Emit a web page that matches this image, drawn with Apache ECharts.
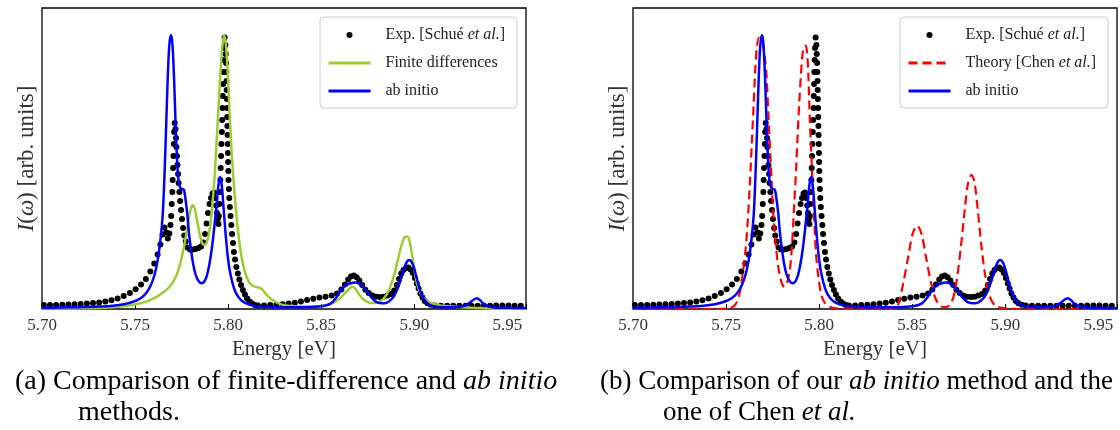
<!DOCTYPE html>
<html>
<head>
<meta charset="utf-8">
<script src="https://cdn.jsdelivr.net/npm/echarts@6/dist/echarts.min.js"></script>
<style>
  html, body { margin: 0; padding: 0; background: #fff; }
  #chart { width: 1120px; height: 430px; }
</style>
</head>
<body>
<div id="chart"></div>
<script>
// ---------------- data ----------------
// x: photon energy [eV]; y: intensity (arb. units, peak of plot ~ 0.91)
const tickLabels = ['5.70', '5.75', '5.80', '5.85', '5.90', '5.95'];

const expPoints = [
  [5.7010,0.013],[5.7043,0.013],[5.7076,0.013],[5.7109,0.014],[5.7142,0.015],[5.7175,0.016],
  [5.7208,0.017],[5.7241,0.018],[5.7274,0.020],[5.7307,0.022],[5.7340,0.025],[5.7373,0.029],
  [5.7406,0.035],[5.7439,0.043],[5.7472,0.053],[5.7503,0.066],[5.7532,0.082],[5.7558,0.100],
  [5.7582,0.125],[5.7603,0.152],[5.7621,0.182],[5.7636,0.215],[5.7648,0.248],[5.7658,0.272],
  [5.7668,0.255],[5.7676,0.235],[5.7684,0.252],[5.7690,0.28],
  [5.7694,0.31],[5.7697,0.35],[5.7700,0.39],[5.7702,0.43],[5.7704,0.47],[5.7706,0.51],
  [5.7708,0.55],[5.7710,0.59],[5.7713,0.62],
  [5.7717,0.60],[5.7720,0.57],[5.7722,0.54],[5.7725,0.51],[5.7728,0.48],[5.7731,0.45],
  [5.7734,0.42],[5.7738,0.39],[5.7742,0.36],[5.7747,0.33],[5.7752,0.30],[5.7758,0.27],
  [5.7764,0.245],[5.7772,0.225],[5.7782,0.205],[5.7795,0.198],[5.7810,0.198],[5.7825,0.200],
  [5.7840,0.203],[5.7855,0.208],[5.7867,0.222],[5.7876,0.25],[5.7884,0.285],[5.7892,0.32],
  [5.7900,0.35],[5.7908,0.37],[5.7916,0.385],[5.7924,0.388],[5.7931,0.37],[5.7936,0.345],
  [5.7940,0.32],[5.7944,0.30],[5.7948,0.283],
  [5.7950,0.31],[5.7953,0.35],[5.7956,0.39],[5.7958,0.43],[5.7960,0.47],[5.7962,0.51],
  [5.7964,0.55],[5.7966,0.59],[5.7968,0.63],[5.7970,0.67],[5.7971,0.71],[5.7973,0.75],
  [5.7974,0.79],[5.7976,0.83],[5.7978,0.87],[5.7981,0.905],
  [5.7985,0.88],[5.7987,0.85],[5.7989,0.82],[5.7990,0.79],[5.7991,0.76],[5.7992,0.73],
  [5.7993,0.70],[5.7994,0.67],[5.7995,0.64],[5.7996,0.61],[5.7997,0.58],[5.7998,0.55],
  [5.7999,0.52],[5.8000,0.49],[5.8001,0.46],[5.8002,0.43],[5.8004,0.40],[5.8006,0.37],
  [5.8009,0.34],[5.8013,0.31],[5.8017,0.28],[5.8021,0.25],[5.8026,0.22],[5.8031,0.19],
  [5.8037,0.165],[5.8044,0.14],[5.8052,0.118],[5.8060,0.098],[5.8069,0.08],[5.8079,0.063],
  [5.8090,0.048],[5.8102,0.035],[5.8115,0.025],[5.8129,0.018],[5.8144,0.013],
  [5.8160,0.012],[5.8193,0.012],[5.8226,0.013],[5.8259,0.014],[5.8292,0.016],[5.8325,0.018],
  [5.8358,0.021],[5.8391,0.025],[5.8424,0.030],[5.8457,0.034],[5.8490,0.038],[5.8523,0.041],
  [5.8556,0.045],[5.8585,0.052],[5.8608,0.065],[5.8627,0.082],[5.8645,0.098],[5.8660,0.108],
  [5.8675,0.112],[5.8690,0.106],[5.8705,0.095],[5.8720,0.080],[5.8737,0.064],[5.8755,0.053],
  [5.8775,0.045],[5.8795,0.041],[5.8815,0.040],[5.8835,0.041],[5.8855,0.045],[5.8875,0.050],
  [5.8892,0.062],[5.8906,0.080],[5.8918,0.100],[5.8930,0.118],[5.8942,0.130],[5.8955,0.137],
  [5.8968,0.138],[5.8980,0.132],[5.8992,0.120],[5.9003,0.103],[5.9013,0.085],[5.9023,0.068],
  [5.9033,0.052],[5.9044,0.038],[5.9056,0.027],[5.9070,0.019],[5.9088,0.014],[5.9110,0.012],
  [5.9143,0.011],[5.9176,0.011],[5.9209,0.011],[5.9242,0.011],[5.9275,0.011],[5.9308,0.011],
  [5.9341,0.011],[5.9374,0.011],[5.9407,0.011],[5.9440,0.012],[5.9473,0.012],[5.9506,0.012],
  [5.9539,0.011],[5.9572,0.011]
];

const finiteDiffPoints = [
  [5.7000,0.002],[5.7200,0.002],[5.7330,0.004],[5.7420,0.008],[5.7500,0.015],[5.7570,0.027],
  [5.7620,0.042],[5.7665,0.062],[5.7695,0.082],[5.7722,0.112],[5.7742,0.150],[5.7760,0.200],
  [5.7775,0.250],[5.7788,0.300],[5.7800,0.335],[5.7810,0.346],[5.7820,0.335],[5.7832,0.300],
  [5.7845,0.255],[5.7858,0.224],[5.7870,0.213],[5.7882,0.218],[5.7893,0.240],[5.7905,0.285],
  [5.7917,0.360],[5.7928,0.450],[5.7938,0.560],[5.7948,0.670],[5.7958,0.780],[5.7968,0.870],
  [5.7978,0.913],[5.7988,0.880],[5.7998,0.780],[5.8008,0.650],[5.8018,0.530],[5.8030,0.420],
  [5.8042,0.330],[5.8055,0.250],[5.8070,0.180],[5.8085,0.135],[5.8100,0.105],[5.8118,0.085],
  [5.8140,0.075],[5.8160,0.072],[5.8178,0.068],[5.8195,0.056],[5.8215,0.042],[5.8240,0.029],
  [5.8270,0.019],[5.8310,0.012],[5.8360,0.009],[5.8420,0.008],[5.8480,0.009],[5.8530,0.013],
  [5.8570,0.022],[5.8605,0.038],[5.8635,0.058],[5.8658,0.072],[5.8670,0.074],[5.8685,0.066],
  [5.8705,0.047],[5.8730,0.030],[5.8760,0.021],[5.8790,0.020],[5.8815,0.025],[5.8840,0.038],
  [5.8865,0.065],[5.8890,0.110],[5.8910,0.160],[5.8930,0.210],[5.8948,0.240],[5.8962,0.242],
  [5.8975,0.225],[5.8988,0.180],[5.9002,0.125],[5.9017,0.080],[5.9035,0.050],[5.9060,0.031],
  [5.9090,0.020],[5.9140,0.012],[5.9200,0.008],[5.9270,0.005],[5.9400,0.002],[5.9600,0.001]
];

const abInitioPoints = [
  [5.7000,0.004],[5.7100,0.005],[5.7200,0.006],[5.7300,0.008],[5.7380,0.011],[5.7440,0.016],
  [5.7490,0.024],[5.7530,0.036],[5.7560,0.053],[5.7585,0.080],[5.7605,0.115],[5.7622,0.165],
  [5.7637,0.235],[5.7649,0.320],[5.7660,0.480],[5.7668,0.630],[5.7676,0.780],[5.7684,0.880],
  [5.7693,0.913],[5.7701,0.880],[5.7710,0.760],[5.7718,0.610],[5.7726,0.490],[5.7734,0.425],
  [5.7742,0.405],[5.7752,0.400],[5.7762,0.398],[5.7770,0.370],[5.7780,0.320],[5.7790,0.250],
  [5.7800,0.200],[5.7812,0.150],[5.7825,0.115],[5.7840,0.094],[5.7857,0.086],[5.7872,0.092],
  [5.7885,0.110],[5.7898,0.145],[5.7912,0.200],[5.7925,0.270],[5.7937,0.340],[5.7947,0.410],
  [5.7957,0.441],[5.7966,0.410],[5.7975,0.340],[5.7985,0.260],[5.7996,0.185],[5.8008,0.130],
  [5.8022,0.090],[5.8037,0.060],[5.8055,0.040],[5.8075,0.027],[5.8100,0.018],[5.8130,0.012],
  [5.8170,0.008],[5.8250,0.006],[5.8350,0.006],[5.8450,0.007],[5.8510,0.010],[5.8550,0.018],
  [5.8578,0.036],[5.8605,0.062],[5.8631,0.079],[5.8658,0.086],[5.8685,0.088],[5.8710,0.082],
  [5.8730,0.070],[5.8750,0.055],[5.8768,0.040],[5.8790,0.026],[5.8815,0.020],[5.8840,0.019],
  [5.8865,0.026],[5.8890,0.042],[5.8910,0.068],[5.8928,0.100],[5.8945,0.135],[5.8960,0.157],
  [5.8972,0.163],[5.8985,0.157],[5.8998,0.138],[5.9012,0.105],[5.9027,0.070],[5.9042,0.044],
  [5.9060,0.026],[5.9080,0.015],[5.9110,0.008],[5.9160,0.006],[5.9230,0.007],[5.9270,0.011],
  [5.9295,0.020],[5.9318,0.031],[5.9335,0.036],[5.9352,0.030],[5.9370,0.018],[5.9395,0.009],
  [5.9430,0.005],[5.9500,0.004],[5.9600,0.003]
];

const chenPoints = [
  [5.7000,0.000],[5.7450,0.000],[5.7520,0.003],[5.7550,0.015],[5.7570,0.045],[5.7590,0.120],
  [5.7605,0.200],[5.7617,0.300],[5.7628,0.420],[5.7638,0.550],[5.7648,0.680],[5.7657,0.800],
  [5.7666,0.875],[5.7678,0.905],[5.7690,0.900],[5.7700,0.875],[5.7708,0.840],[5.7716,0.790],
  [5.7725,0.680],[5.7733,0.574],[5.7742,0.460],[5.7750,0.352],[5.7759,0.270],[5.7768,0.208],
  [5.7777,0.155],[5.7786,0.119],[5.7800,0.085],[5.7813,0.074],[5.7826,0.085],[5.7840,0.119],
  [5.7849,0.170],[5.7857,0.241],[5.7866,0.350],[5.7876,0.463],[5.7884,0.575],[5.7893,0.686],
  [5.7902,0.780],[5.7911,0.852],[5.7920,0.875],[5.7928,0.878],[5.7935,0.855],[5.7942,0.780],
  [5.7950,0.630],[5.7958,0.510],[5.7965,0.408],[5.7974,0.290],[5.7983,0.186],[5.7995,0.110],
  [5.8010,0.052],[5.8030,0.020],[5.8054,0.008],[5.8090,0.002],[5.8150,0.000],[5.8400,0.000],
  [5.8424,0.014],[5.8452,0.087],[5.8479,0.176],[5.8503,0.253],[5.8527,0.278],[5.8550,0.250],
  [5.8575,0.170],[5.8600,0.090],[5.8625,0.035],[5.8650,0.010],[5.8680,0.006],[5.8710,0.020],
  [5.8735,0.080],[5.8760,0.200],[5.8782,0.330],[5.8800,0.420],[5.8818,0.447],[5.8835,0.420],
  [5.8852,0.330],[5.8870,0.220],[5.8890,0.120],[5.8915,0.045],[5.8945,0.012],[5.9000,0.002],
  [5.9100,0.000],[5.9600,0.000]
];

const nameExp = 'Exp. [Schué et al.]';
const nameFD = 'Finite differences';
const nameAI = 'ab initio';
const nameChen = 'Theory [Chen et al.]';
const captionA1 = '(a) Comparison of finite-difference and {i|ab initio}';
const captionA2 = 'methods.';
const captionB1 = '(b) Comparison of our {i|ab initio} method and the';
const captionB2 = 'one of Chen {i|et al.}';

// ---------------- chart ----------------
const SERIF = '"Liberation Serif", "DejaVu Serif", serif';
const TXT = '#333';
const dotIcon = 'path://M0,0M42,14M24,7A3,3,0,1,1,18,7A3,3,0,1,1,24,7Z';

function makeXAxis(gi) {
  return {
    gridIndex: gi, type: 'value', min: 5.70, max: 5.96, interval: 0.05,
    axisLine: { show: false },
    axisTick: { show: true, inside: true, length: 5, lineStyle: { color: '#000', width: 1 } },
    splitLine: { show: false },
    axisLabel: {
      margin: 8, fontFamily: SERIF, fontSize: 17, color: TXT,
      formatter: v => { const s = v.toFixed(2); return tickLabels.includes(s) ? s : ''; }
    },
    name: 'Energy [eV]', nameLocation: 'middle', nameGap: 29,
    nameTextStyle: { fontFamily: SERIF, fontSize: 21, color: TXT }
  };
}
function makeYAxis(gi) {
  return {
    gridIndex: gi, type: 'value', min: 0, max: 301 / 300,
    axisLine: { show: false }, axisTick: { show: false }, axisLabel: { show: false },
    splitLine: { show: false },
    name: '{i|I}({i|ω}) [arb. units]', nameLocation: 'middle', nameRotate: 90, nameGap: 4,
    nameTextStyle: {
      fontFamily: SERIF, fontSize: 23, color: TXT,
      rich: { i: { fontFamily: SERIF, fontSize: 23, fontStyle: 'italic', color: TXT } }
    }
  };
}
function makeLegend(left, names) {
  return {
    orient: 'vertical', left: left, top: 17,
    itemWidth: 42, itemHeight: 14, itemGap: 12,
    padding: [10, 12, 9, 7],
    backgroundColor: '#fff', borderColor: '#cccccc', borderWidth: 1, borderRadius: 4,
    data: names.map(n => n === nameExp
      ? { name: n, icon: dotIcon }
      : { name: n, itemStyle: { opacity: 0 }, lineStyle: { width: 3 } }),
    formatter: n => n.replace('et al.', '{i|et al.}'),
    textStyle: {
      fontFamily: SERIF, fontSize: 16, color: '#222', padding: [0, 0, 0, 10],
      rich: { i: { fontFamily: SERIF, fontSize: 16, fontStyle: 'italic', color: '#222' } }
    },
    selectedMode: false
  };
}

const chart = echarts.init(document.getElementById('chart'), null, { renderer: 'canvas' });
chart.setOption({
  animation: false,
  backgroundColor: '#fff',
  grid: [
    { left: 42, top: 8, width: 484, height: 301, show: true, borderColor: '#000', borderWidth: 1.3, backgroundColor: 'transparent' },
    { left: 633, top: 8, width: 484, height: 301, show: true, borderColor: '#000', borderWidth: 1.3, backgroundColor: 'transparent' }
  ],
  xAxis: [makeXAxis(0), makeXAxis(1)],
  yAxis: [makeYAxis(0), makeYAxis(1)],
  legend: [makeLegend(320, [nameExp, nameFD, nameAI]), makeLegend(900, [nameExp, nameChen, nameAI])],
  series: [
    { type: 'scatter', name: nameExp, xAxisIndex: 0, yAxisIndex: 0, data: expPoints,
      symbolSize: 6, itemStyle: { color: '#000', opacity: 1 } },
    { type: 'line', name: nameFD, xAxisIndex: 0, yAxisIndex: 0, data: finiteDiffPoints,
      symbol: 'none', smooth: 0.3, lineStyle: { color: '#9acd32', width: 2.5 }, itemStyle: { color: '#9acd32' } },
    { type: 'line', name: nameAI, xAxisIndex: 0, yAxisIndex: 0, data: abInitioPoints,
      symbol: 'none', smooth: 0.3, lineStyle: { color: '#0000ff', width: 2.5 }, itemStyle: { color: '#0000ff' } },
    { type: 'scatter', name: nameExp, xAxisIndex: 1, yAxisIndex: 1, data: expPoints,
      symbolSize: 6, itemStyle: { color: '#000', opacity: 1 } },
    { type: 'line', name: nameChen, xAxisIndex: 1, yAxisIndex: 1, data: chenPoints,
      symbol: 'none', smooth: 0.3, lineStyle: { color: '#ff0000', width: 2.2, type: [9, 5] }, itemStyle: { color: '#ff0000' } },
    { type: 'line', name: nameAI, xAxisIndex: 1, yAxisIndex: 1, data: abInitioPoints,
      symbol: 'none', smooth: 0.3, lineStyle: { color: '#0000ff', width: 2.5 }, itemStyle: { color: '#0000ff' } }
  ],
  graphic: [
    { type: 'text', left: 15, top: 368,
      style: { text: captionA1, fontFamily: SERIF, fontSize: 28, fill: '#000',
        rich: { i: { fontFamily: SERIF, fontSize: 28, fontStyle: 'italic', fill: '#000' } } } },
    { type: 'text', left: 78, top: 399,
      style: { text: captionA2, fontFamily: SERIF, fontSize: 28, fill: '#000' } },
    { type: 'text', left: 600, top: 368,
      style: { text: captionB1, fontFamily: SERIF, fontSize: 27, fill: '#000',
        rich: { i: { fontFamily: SERIF, fontSize: 27, fontStyle: 'italic', fill: '#000' } } } },
    { type: 'text', left: 663, top: 399,
      style: { text: captionB2, fontFamily: SERIF, fontSize: 27, fill: '#000',
        rich: { i: { fontFamily: SERIF, fontSize: 27, fontStyle: 'italic', fill: '#000' } } } }
  ]
});
</script>
</body>
</html>
